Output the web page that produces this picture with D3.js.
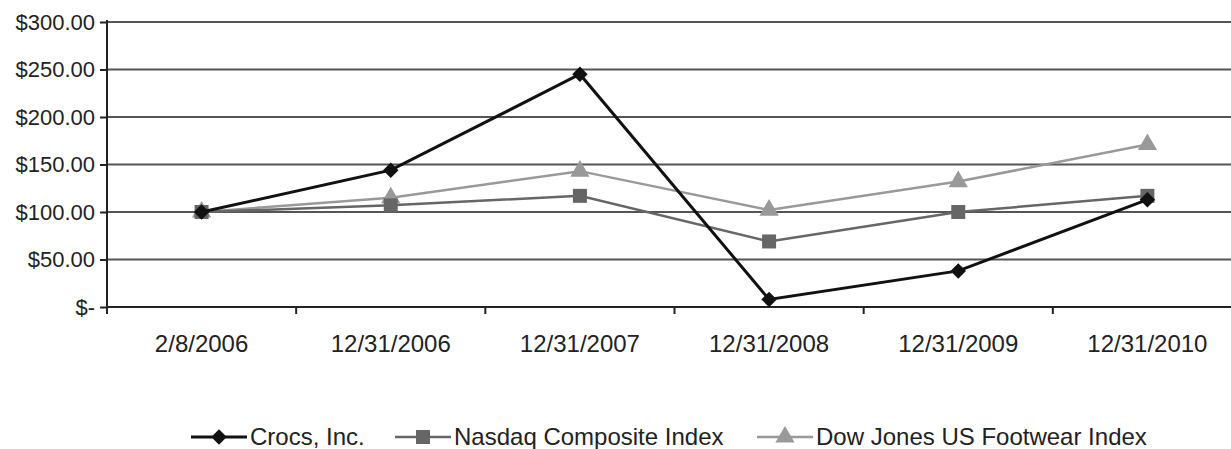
<!DOCTYPE html>
<html>
<head>
<meta charset="utf-8">
<script src="https://cdnjs.cloudflare.com/ajax/libs/d3/7.8.5/d3.min.js"></script>
<style>
	body { margin: 0; background: #fff; }
	svg { display: block; font-family: "Liberation Sans", Arial, sans-serif; }
</style>
</head>
<body>
<div class="container"></div>
<script>
var	WIDTH = 1231,
	HEIGHT = 449,
	LEFT = 107,
	RIGHT = 1242,
	TOP = 22,
	BOTTOM = 307;

var dates = ['2/8/2006', '12/31/2006', '12/31/2007', '12/31/2008', '12/31/2009', '12/31/2010'];
var crocs = [100, 144, 245, 8, 38, 113];
var nasdaq = [100, 107, 117, 69, 100, 117];
var footwear = [100, 115, 143, 102, 132, 171];
var seriesNames = ['Crocs, Inc.', 'Nasdaq Composite Index', 'Dow Jones US Footwear Index'];
var yTicks = [0, 50, 100, 150, 200, 250, 300];

var series = [
	{name: seriesNames[0], values: crocs, color: '#111', width: 3, symbol: d3.symbolSquare, size: 120, rotate: 45},
	{name: seriesNames[1], values: nasdaq, color: '#666', width: 2.5, symbol: d3.symbolSquare, size: 196, rotate: 0},
	{name: seriesNames[2], values: footwear, color: '#999', width: 2.5, symbol: d3.symbolTriangle, size: 160, rotate: 0}
];

function translate(x, y) {
	return 'translate(' + x + ',' + y + ')';
}

function money(v) {
	return v === 0 ? '$-' : '$' + v.toFixed(2);
}

var svg = d3.select('.container').append('svg')
	.attr('width', WIDTH)
	.attr('height', HEIGHT);

var xScale = d3.scaleBand()
	.domain(dates)
	.range([LEFT, RIGHT]);

var yScale = d3.scaleLinear()
	.domain([0, 300])
	.range([BOTTOM, TOP]);

// gridlines
svg.append('g').selectAll('line')
	.data(yTicks.slice(1)).enter()
	.append('line')
	.attr('x1', LEFT).attr('x2', WIDTH)
	.attr('y1', function(d) {return yScale(d)})
	.attr('y2', function(d) {return yScale(d)})
	.attr('stroke', '#555')
	.attr('stroke-width', 2);

// y axis
var yAxis = d3.axisLeft(yScale)
	.tickValues(yTicks)
	.tickFormat(money)
	.tickSize(7)
	.tickPadding(5);

var yAxisGroup = svg.append('g')
	.attr('transform', translate(LEFT, 0))
	.call(yAxis);
yAxisGroup.select('.domain').remove();
yAxisGroup.append('line')
	.attr('y1', TOP - 2).attr('y2', BOTTOM + 7)
	.attr('stroke', '#222').attr('stroke-width', 2);
yAxisGroup.selectAll('.tick line').attr('stroke', '#222').attr('stroke-width', 2);
yAxisGroup.selectAll('text').attr('font-size', 22).attr('fill', '#222');

// x axis
var xAxisGroup = svg.append('g')
	.attr('transform', translate(0, BOTTOM));
xAxisGroup.append('line')
	.attr('x1', LEFT).attr('x2', WIDTH)
	.attr('stroke', '#222').attr('stroke-width', 2);
xAxisGroup.selectAll('.xtick')
	.data(dates.slice(1)).enter()
	.append('line')
	.attr('x1', function(d) {return xScale(d)})
	.attr('x2', function(d) {return xScale(d)})
	.attr('y1', 0).attr('y2', 7)
	.attr('stroke', '#222').attr('stroke-width', 2);
xAxisGroup.selectAll('text')
	.data(dates).enter()
	.append('text')
	.attr('x', function(d) {return xScale(d) + xScale.bandwidth() / 2})
	.attr('y', 45)
	.attr('text-anchor', 'middle')
	.attr('font-size', 24)
	.attr('fill', '#222')
	.text(function(d) {return d});

// lines and markers, last series first so Crocs sits on top
var line = d3.line()
	.x(function(d, i) {return xScale(dates[i]) + xScale.bandwidth() / 2})
	.y(function(d) {return yScale(d)});

series.slice().reverse().forEach(function(s) {
	var g = svg.append('g');
	g.append('path')
		.datum(s.values)
		.attr('d', line)
		.attr('fill', 'none')
		.attr('stroke', s.color)
		.attr('stroke-width', s.width);
	g.selectAll('path.mark')
		.data(s.values).enter()
		.append('path')
		.attr('class', 'mark')
		.attr('transform', function(d, i) {
			return translate(xScale(dates[i]) + xScale.bandwidth() / 2, yScale(d)) + ' rotate(' + s.rotate + ')';
		})
		.attr('d', d3.symbol().type(s.symbol).size(s.size))
		.attr('fill', s.color);
});

// legend
var legendX = [191, 395, 757];
var legend = svg.append('g')
	.attr('transform', translate(0, 437));
series.forEach(function(s, i) {
	var g = legend.append('g').attr('transform', translate(legendX[i], 0));
	g.append('line')
		.attr('x1', 0).attr('x2', 56)
		.attr('stroke', s.color)
		.attr('stroke-width', s.width);
	g.append('path')
		.attr('transform', translate(28, 0) + ' rotate(' + s.rotate + ')')
		.attr('d', d3.symbol().type(s.symbol).size(s.size))
		.attr('fill', s.color);
	g.append('text')
		.attr('x', 59)
		.attr('y', 8)
		.attr('font-size', 24)
		.attr('fill', '#222')
		.text(s.name);
});
</script>
</body>
</html>
